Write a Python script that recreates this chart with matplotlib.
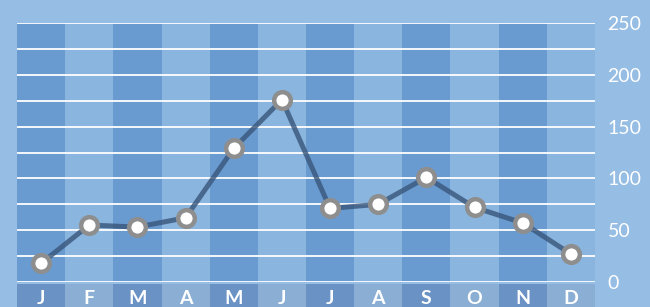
import matplotlib
matplotlib.use("Agg")
import matplotlib.pyplot as plt

months = ["J", "F", "M", "A", "M", "J", "J", "A", "S", "O", "N", "D"]
values = [18, 55, 53, 62, 129, 176, 71, 75, 101, 72, 57, 27]
y_ticks = [0, 50, 100, 150, 200, 250]
y_max = 250

bg = "#96bde3"
col_dark = "#6a9bd0"
col_light = "#8ab5de"
strip_dark = "#6a92c5"
strip_light = "#8aaed4"

plt.rcParams["font.family"] = ["Lato", "DejaVu Sans"]

fig = plt.figure(figsize=(6.5, 3.07), dpi=100, facecolor=bg)

# main plot area
ax = fig.add_axes([17 / 650, 25 / 307, 578 / 650, 259 / 307])
ax.set_facecolor(bg)
x = list(range(len(months)))
colors = [col_dark if i % 2 == 0 else col_light for i in x]
ax.bar(x, [y_max] * len(x), width=1.0, color=colors, zorder=0)
for t in range(0, y_max + 1, 25):
    ax.axhline(t, color="white", lw=1.3, zorder=1)
ax.plot(x, values, color="#38557a", lw=3.6, alpha=0.8, zorder=2,
        solid_capstyle="round")
ax.plot(x, values, ls="none", marker="o", ms=12, mew=3.2,
        mfc="white", mec="#8e8e8e", zorder=3)
ax.set_xlim(-0.5, len(x) - 0.5)
ax.set_ylim(0, y_max)
ax.yaxis.tick_right()
ax.set_yticks(y_ticks)
ax.tick_params(axis="y", length=0, pad=9, labelcolor="white", labelsize=14)
ax.set_xticks([])
for s in ax.spines.values():
    s.set_visible(False)

# month strip
ax2 = fig.add_axes([17 / 650, 0, 578 / 650, 23 / 307])
ax2.set_facecolor(bg)
strip_colors = [strip_dark if i % 2 == 0 else strip_light for i in x]
ax2.bar(x, [1] * len(x), width=1.0, color=strip_colors)
for i, m in enumerate(months):
    ax2.text(i, 0.36, m, ha="center", va="center", color="white",
             fontsize=14, fontweight="bold")
ax2.set_xlim(-0.5, len(x) - 0.5)
ax2.set_ylim(0, 1)
ax2.axis("off")

fig.savefig("out.png", dpi=100, facecolor=bg)
